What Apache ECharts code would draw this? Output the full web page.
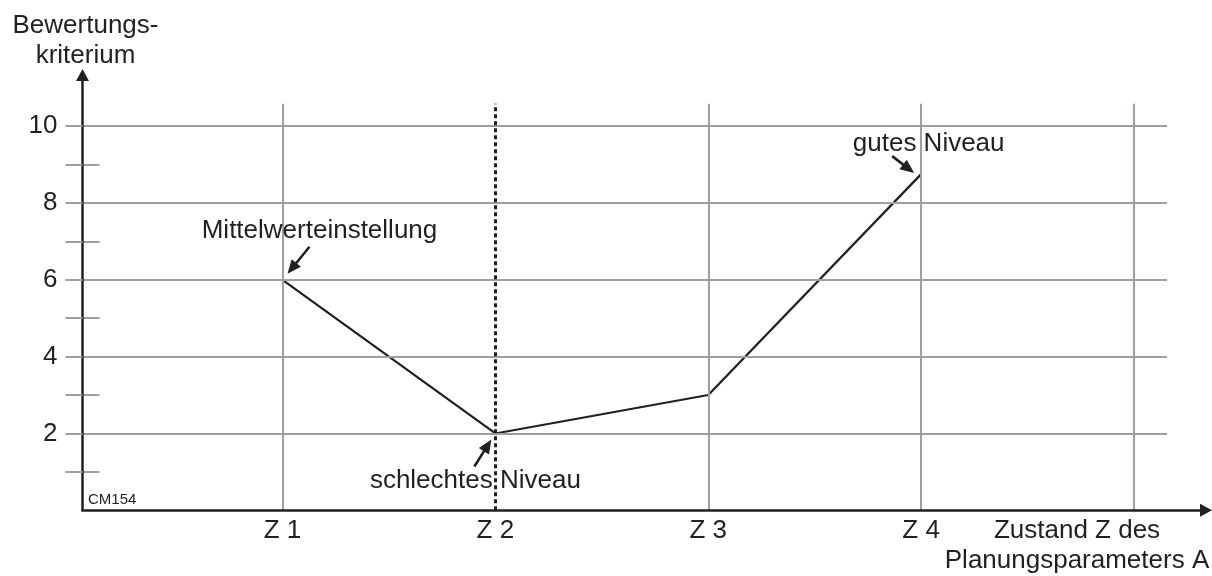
<!DOCTYPE html>
<html>
<head>
<meta charset="utf-8">
<script src="https://cdn.jsdelivr.net/npm/echarts@6/dist/echarts.min.js"></script>
<style>
html,body{margin:0;padding:0;background:#fff;}
#chart{width:1212px;height:576px;}
</style>
</head>
<body>
<div id="chart"></div>
<script>
// ---- data ----
const stateLabels = ['Z 1', 'Z 2', 'Z 3', 'Z 4'];
const states = [1, 2, 3, 4];
const values = [6, 2, 3, 8.75];
const yTickLabels = [2, 4, 6, 8, 10];
const yMinorTicks = [1, 3, 5, 7, 9];
const yAllTicks = [1, 2, 3, 4, 5, 6, 7, 8, 9, 10];
const gridStates = [1, 2, 3, 4, 5];
const markedState = 2;
const noteTexts = ['Mittelwerteinstellung', 'schlechtes Niveau', 'gutes Niveau'];
const noteTargets = [0, 1, 3];
const yName = 'Bewertungs-\nkriterium';
const xName = 'Zustand Z des\nPlanungsparameters A';
const figId = 'CM154';

// ---- styles ----
const FONT = 'Liberation Sans, Arial, Helvetica, sans-serif';
const INK = '#231f20';
const GRAY = '#9ba1a1';
const X_MIN = 0.0606, X_MAX = 5.338;
const Y_MIN = 0, Y_MAX = 11.33;
const H_END = 5.155, V_END = 10.58;

const chart = echarts.init(document.getElementById('chart'), null, {renderer: 'canvas'});

const series = [];
// gridlines
const gridLines = [];
yTickLabels.forEach(v => gridLines.push([{coord: [X_MIN, v]}, {coord: [H_END, v]}]));
gridStates.forEach(s => {
  if (s === markedState) return;
  gridLines.push([{coord: [s, 0]}, {coord: [s, V_END]}]);
});
series.push({
  type: 'line', data: [], silent: true, z: 1,
  markLine: {
    silent: true, symbol: ['none', 'none'], label: {show: false},
    lineStyle: {color: GRAY, width: 2, type: 'solid'},
    emphasis: {disabled: true},
    animation: false,
    data: gridLines
  }
});
series.push({
  type: 'line', data: [], silent: true, z: 3,
  markLine: {
    silent: true, symbol: ['none', 'none'], label: {show: false},
    lineStyle: {color: INK, width: 3, type: [4, 3]},
    emphasis: {disabled: true},
    animation: false,
    data: [[{coord: [markedState, 0]}, {coord: [markedState, V_END]}]]
  }
});
series.push({
  type: 'line', z: 4,
  data: states.map((s, i) => [s, values[i]]),
  showSymbol: false, symbol: 'none',
  lineStyle: {color: INK, width: 2.2},
  animation: false
});

const option = {
  animation: false,
  backgroundColor: '#fff',
  textStyle: {fontFamily: FONT},
  grid: {left: 82.5, right: 6, top: 75, bottom: 65.7, containLabel: false},
  xAxis: {
    type: 'value', min: X_MIN, max: X_MAX, z: 5,
    axisLine: {show: true, symbol: ['none', 'triangle'], symbolSize: [13, 12], lineStyle: {color: INK, width: 2.5}},
    axisTick: {show: false},
    splitLine: {show: false},
    axisLabel: {
      customValues: states, margin: 8, fontSize: 26, color: INK, fontFamily: FONT,
      formatter: v => stateLabels[states.indexOf(Math.round(v))] || ''
    }
  },
  yAxis: [{
    type: 'value', min: Y_MIN, max: Y_MAX, z: 5,
    name: yName, nameLocation: 'end', nameGap: 4,
    nameTextStyle: {fontSize: 26, lineHeight: 30, color: INK, fontFamily: FONT, align: 'center', padding: [0, 0, 0, 6]},
    axisLine: {show: true, symbol: ['none', 'triangle'], symbolSize: [13, 12], lineStyle: {color: INK, width: 2.5}},
    axisTick: {show: true, customValues: yAllTicks, inside: false, length: 17, lineStyle: {color: GRAY, width: 2}},
    splitLine: {show: false},
    axisLabel: {customValues: yTickLabels, margin: 25, fontSize: 26, color: INK, fontFamily: FONT}
  }, {
    type: 'value', min: Y_MIN, max: Y_MAX, position: 'left', z: 2,
    axisLine: {show: false},
    axisTick: {show: true, customValues: yMinorTicks, inside: true, length: 17, lineStyle: {color: GRAY, width: 2}},
    splitLine: {show: false},
    axisLabel: {show: false}
  }],
  series: series
};
chart.setOption(option);

// ---- annotations (positioned from data via the chart's own scales) ----
const noteLayout = [
  {text: [37, -49], tail: [27, -33], tip: [5, -6]},
  {text: [-20, 47.5], tail: [-21, 33], tip: [-4, 6]},
  {text: [7.5, -30.5], tail: [-29, -18], tip: [-7, -1]}
];
function arrow(t0, t1) {
  const dx = t1[0] - t0[0], dy = t1[1] - t0[1];
  const L = Math.sqrt(dx * dx + dy * dy);
  const ux = dx / L, uy = dy / L;
  const hl = 14, hw = 6;
  const bx = t1[0] - ux * hl, by = t1[1] - uy * hl;
  const nx = -uy, ny = ux;
  return [
    {type: 'line', z: 10, shape: {x1: t0[0], y1: t0[1], x2: bx + ux * 2, y2: by + uy * 2}, style: {stroke: INK, lineWidth: 2.6}},
    {type: 'polygon', z: 10, shape: {points: [[t1[0], t1[1]], [bx + nx * hw, by + ny * hw], [bx - nx * hw, by - ny * hw]]}, style: {fill: INK}}
  ];
}
const elements = [];
noteTexts.forEach((txt, k) => {
  const i = noteTargets[k];
  const p = chart.convertToPixel({xAxisIndex: 0, yAxisIndex: 0}, [states[i], values[i]]);
  const L = noteLayout[k];
  elements.push({
    type: 'text', z: 9, x: p[0] + L.text[0], y: p[1] + L.text[1],
    style: {text: txt, fontSize: 26, fontFamily: FONT, fill: INK, align: 'center', verticalAlign: 'middle'}
  });
  arrow([p[0] + L.tail[0], p[1] + L.tail[1]], [p[0] + L.tip[0], p[1] + L.tip[1]]).forEach(e => elements.push(e));
});
const origin = chart.convertToPixel({xAxisIndex: 0, yAxisIndex: 0}, [X_MIN, 0]);
elements.push({
  type: 'text', z: 9, x: origin[0] + 5.5, y: origin[1] - 10.5,
  style: {text: figId, fontSize: 15, fontFamily: FONT, fill: INK, align: 'left', verticalAlign: 'middle'}
});
elements.push({
  type: 'text', z: 9, x: 1077, y: 516,
  style: {text: xName, fontSize: 26, lineHeight: 30, fontFamily: FONT, fill: INK, align: 'center', verticalAlign: 'top'}
});
chart.setOption({graphic: {elements: elements}});
</script>
</body>
</html>
